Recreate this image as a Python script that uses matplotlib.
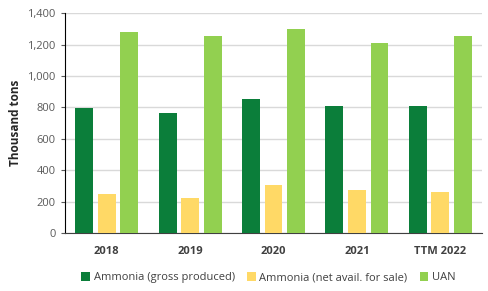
import numpy as np
import matplotlib.pyplot as plt

plt.rcParams['font.family'] = ['Open Sans', 'DejaVu Sans']

# Dados
categorias = ['2018', '2019', '2020', '2021', 'TTM 2022']
amonia_bruta = [795, 766, 851, 806, 806]
amonia_liquida = [246, 225, 305, 274, 259]
uan = [1277, 1256, 1300, 1207, 1254]

series = [
    ('Ammonia (gross produced)', amonia_bruta, '#0b7e3a'),
    ('Ammonia (net avail. for sale)', amonia_liquida, '#ffd966'),
    ('UAN', uan, '#92d050'),
]

fig = plt.figure(figsize=(4.88, 2.91), dpi=100)
ax = fig.add_axes([0.133, 0.199, 0.855, 0.756])

x = np.arange(len(categorias))
largura = 0.215
passo = 0.27
for i, (nome, valores, cor) in enumerate(series):
    ax.bar(x + (i - 1) * passo, valores, largura, color=cor, label=nome, zorder=3)

ax.set_xlim(-0.5, len(categorias) - 0.5)
ax.set_ylim(0, 1400)
ax.set_yticks(range(0, 1401, 200))
ax.set_yticklabels([f'{v:,}' for v in range(0, 1401, 200)])
ax.set_xticks(x)
ax.set_xticklabels(categorias, fontweight='bold', color='#404040')
ax.tick_params(axis='x', length=0, labelsize=8, pad=9.5)
ax.tick_params(axis='y', length=3, labelsize=8, colors='#595959', width=0.8)
ax.yaxis.grid(True, color='#d9d9d9', linewidth=1, zorder=0)

for lado in ['top', 'right']:
    ax.spines[lado].set_visible(False)
ax.spines['left'].set_color('black')
ax.spines['bottom'].set_color('#404040')

ax.set_ylabel('Thousand tons', fontsize=8.5, fontweight='bold', color='#262626')

fig.legend(loc='center', bbox_to_anchor=(0.55, 0.045), ncol=3, frameon=False,
           fontsize=8, handlelength=0.8, handleheight=0.8, handletextpad=0.3,
           columnspacing=1.1, labelcolor='#404040')

fig.savefig('out.png', dpi=100)
